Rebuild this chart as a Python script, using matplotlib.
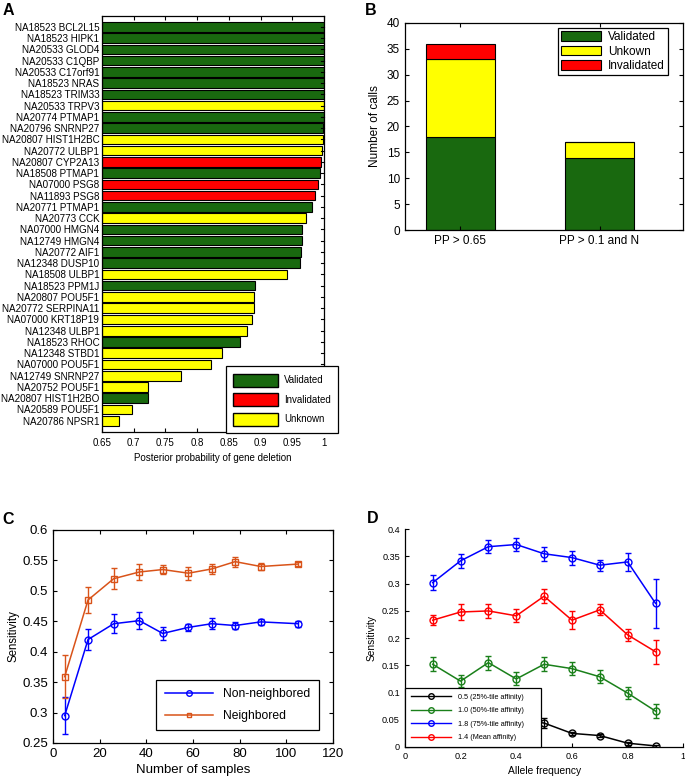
import numpy as np
import matplotlib
matplotlib.use('Agg')
import matplotlib.pyplot as plt
from matplotlib.patches import Patch
from matplotlib.lines import Line2D

plt.rcParams['font.family'] = ['Liberation Sans', 'DejaVu Sans']
plt.rcParams['xtick.direction'] = 'in'
plt.rcParams['ytick.direction'] = 'in'
plt.rcParams['axes.linewidth'] = 0.9

# ---- data, panel A (top to bottom)
genes = ['NA18523 BCL2L15', 'NA18523 HIPK1', 'NA20533 GLOD4', 'NA20533 C1QBP',
         'NA20533 C17orf91', 'NA18523 NRAS', 'NA18523 TRIM33', 'NA20533 TRPV3',
         'NA20774 PTMAP1', 'NA20796 SNRNP27', 'NA20807 HIST1H2BC', 'NA20772 ULBP1',
         'NA20807 CYP2A13', 'NA18508 PTMAP1', 'NA07000 PSG8', 'NA11893 PSG8',
         'NA20771 PTMAP1', 'NA20773 CCK', 'NA07000 HMGN4', 'NA12749 HMGN4',
         'NA20772 AIF1', 'NA12348 DUSP10', 'NA18508 ULBP1', 'NA18523 PPM1J',
         'NA20807 POU5F1', 'NA20772 SERPINA11', 'NA07000 KRT18P19', 'NA12348 ULBP1',
         'NA18523 RHOC', 'NA12348 STBD1', 'NA07000 POU5F1', 'NA12749 SNRNP27',
         'NA20752 POU5F1', 'NA20807 HIST1H2BO', 'NA20589 POU5F1', 'NA20786 NPSR1']
post_prob = [1.0, 1.0, 1.0, 1.0, 1.0, 1.0, 1.0, 1.0, 1.0, 0.999, 0.998, 0.997,
             0.996, 0.993, 0.990, 0.986, 0.981, 0.971, 0.966, 0.966, 0.964, 0.962,
             0.941, 0.891, 0.890, 0.889, 0.887, 0.879, 0.868, 0.839, 0.822, 0.774,
             0.722, 0.722, 0.697, 0.677]
status = ['V', 'V', 'V', 'V', 'V', 'V', 'V', 'U', 'V', 'V', 'U', 'U',
          'I', 'V', 'I', 'I', 'V', 'U', 'V', 'V', 'V', 'V', 'U', 'V',
          'U', 'U', 'U', 'U', 'V', 'U', 'U', 'U', 'U', 'V', 'U', 'U']

# ---- data, panel B
b_groups = ['PP > 0.65', 'PP > 0.1 and N']
b_validated = [18, 14]
b_unknown = [15, 3]
b_invalidated = [3, 0]

# ---- data, panel C
c_samples = [5, 15, 26, 37, 47, 58, 68, 78, 89, 105]
c_non = [0.295, 0.420, 0.446, 0.451, 0.430, 0.440, 0.446, 0.443, 0.449, 0.446]
c_non_err = [0.030, 0.017, 0.016, 0.014, 0.011, 0.006, 0.009, 0.005, 0.005, 0.005]
c_nb = [0.359, 0.485, 0.520, 0.531, 0.535, 0.529, 0.536, 0.548, 0.540, 0.544]
c_nb_err = [0.035, 0.022, 0.017, 0.013, 0.008, 0.011, 0.008, 0.008, 0.005, 0.003]

# ---- data, panel D
d_freq = [0.1, 0.2, 0.3, 0.4, 0.5, 0.6, 0.7, 0.8, 0.9]
d_black = [0.060, 0.055, 0.060, 0.050, 0.044, 0.025, 0.021, 0.007, 0.002]
d_black_err = [0.008, 0.008, 0.008, 0.008, 0.010, 0.003, 0.003, 0.003, 0.002]
d_green = [0.152, 0.121, 0.155, 0.125, 0.152, 0.144, 0.129, 0.099, 0.066]
d_green_err = [0.013, 0.011, 0.013, 0.012, 0.013, 0.012, 0.012, 0.011, 0.013]
d_blue = [0.302, 0.342, 0.368, 0.372, 0.355, 0.348, 0.334, 0.340, 0.264]
d_blue_err = [0.014, 0.013, 0.012, 0.012, 0.013, 0.013, 0.010, 0.017, 0.045]
d_red = [0.233, 0.248, 0.250, 0.241, 0.277, 0.233, 0.252, 0.206, 0.175]
d_red_err = [0.009, 0.014, 0.013, 0.012, 0.013, 0.016, 0.010, 0.011, 0.022]
d_labels = ['0.5 (25%-tile affinity)', '1.0 (50%-tile affinity)',
            '1.8 (75%-tile affinity)', '1.4 (Mean affinity)']

green = '#19690f'
yellow = '#ffff00'
red = '#ff0000'
col_map = {'V': green, 'U': yellow, 'I': red}

fig = plt.figure(figsize=(6.85, 7.84), dpi=100)

# ===================== A
axA = fig.add_axes([0.149, 0.449, 0.324, 0.531])
n = len(genes)
ypos = np.arange(n, 0, -1)
axA.barh(ypos, np.array(post_prob) - 0.65, left=0.65, height=0.85,
         color=[col_map[s] for s in status], edgecolor='black', linewidth=0.8)
axA.set_xlim(0.65, 1.0)
axA.set_ylim(0, n + 1)
axA.set_yticks(ypos)
axA.set_yticklabels(genes, fontsize=7.1)
axA.set_xticks(np.arange(0.65, 1.0001, 0.05))
axA.set_xticklabels(['0.65', '0.7', '0.75', '0.8', '0.85', '0.9', '0.95', '1'], fontsize=7)
axA.tick_params(top=True, right=True, length=3, pad=4)
axA.tick_params(axis='y', length=0, pad=2)
for yy in ypos:
    axA.plot([1.0, 0.996], [yy, yy], color='black', lw=0.8, clip_on=False)
axA.set_xlabel('Posterior probability of gene deletion', fontsize=7, labelpad=4)
legA = axA.legend(handles=[Patch(facecolor=green, edgecolor='black', label='Validated'),
                           Patch(facecolor=red, edgecolor='black', label='Invalidated'),
                           Patch(facecolor=yellow, edgecolor='black', label='Unknown')],
                  loc='lower left', bbox_to_anchor=(226 / 685, 1 - 433 / 784),
                  bbox_transform=fig.transFigure, borderaxespad=0, fontsize=7.0,
                  handlelength=4.6, handleheight=1.7, labelspacing=0.65,
                  fancybox=False, edgecolor='black', framealpha=1,
                  borderpad=0.75, handletextpad=0.6)
legA.get_frame().set_linewidth(0.9)
fig.text(0.004, 0.987, 'A', fontsize=11.5, fontweight='bold', va='center')

# ===================== B
axB = fig.add_axes([0.591, 0.7066, 0.406, 0.2641])
xb = np.arange(1, len(b_groups) + 1)
axB.bar(xb, b_validated, width=0.5, color=green, edgecolor='black', lw=0.8, label='Validated')
axB.bar(xb, b_unknown, width=0.5, bottom=b_validated, color=yellow, edgecolor='black',
        lw=0.8, label='Unkown')
axB.bar(xb, b_invalidated, width=0.5, bottom=np.array(b_validated) + np.array(b_unknown),
        color=red, edgecolor='black', lw=0.8, label='Invalidated')
axB.set_xlim(0.6, 2.6)
axB.set_ylim(0, 40)
axB.set_xticks(xb)
axB.set_xticklabels(b_groups, fontsize=8.5)
axB.set_yticks(np.arange(0, 41, 5))
axB.tick_params(labelsize=8.5, top=True, right=True, length=3)
axB.set_ylabel('Number of calls', fontsize=8.5)
legB = axB.legend(loc='upper right', bbox_to_anchor=(0.946, 0.976), fontsize=8.5,
                  handlelength=3.4, handleheight=0.9, labelspacing=0.23,
                  fancybox=False, edgecolor='black', framealpha=1,
                  borderpad=0.25, handletextpad=0.6, borderaxespad=0)
legB.get_frame().set_linewidth(0.9)
fig.text(0.533, 0.987, 'B', fontsize=11.5, fontweight='bold', va='center')

# ===================== C
axC = fig.add_axes([0.0774, 0.0523, 0.409, 0.2717])
c_blue = '#0000ff'
c_red = '#d95319'
axC.errorbar(c_samples, c_non, yerr=c_non_err, color=c_blue, marker='o', ms=5,
             mfc='none', mec=c_blue, lw=1.1, capsize=2.5, elinewidth=1.0,
             label='Non-neighbored')
axC.errorbar(c_samples, c_nb, yerr=c_nb_err, color=c_red, marker='s', ms=4.5,
             mfc='none', mec=c_red, lw=1.1, capsize=2.5, elinewidth=1.0,
             label='Neighbored')
axC.set_xlim(0, 120)
axC.set_ylim(0.25, 0.6)
axC.set_xticks(np.arange(0, 121, 20))
axC.set_yticks(np.arange(0.25, 0.601, 0.05))
axC.set_yticklabels(['0.25', '0.3', '0.35', '0.4', '0.45', '0.5', '0.55', '0.6'])
axC.tick_params(labelsize=9.5, top=True, right=True, length=3)
axC.set_xlabel('Number of samples', fontsize=9.5, labelpad=3)
axC.set_ylabel('Sensitivity', fontsize=8.3, labelpad=2)
hC = [Line2D([], [], color=c_blue, marker='o', mfc='none', ms=4, lw=1.1),
      Line2D([], [], color=c_red, marker='s', mfc='none', ms=3.5, lw=1.1)]
legC = axC.legend(hC, ['Non-neighbored', 'Neighbored'], loc='lower right',
                  bbox_to_anchor=(0.948, 0.06), fontsize=8.7, handlelength=4.0,
                  labelspacing=0.8, fancybox=False, edgecolor='black', framealpha=1,
                  borderpad=0.7, handletextpad=0.8, borderaxespad=0)
legC.get_frame().set_linewidth(0.9)
fig.text(0.003, 0.337, 'C', fontsize=11.5, fontweight='bold', va='center')

# ===================== D
axD = fig.add_axes([0.591, 0.0472, 0.4066, 0.2777])
d_cols = ['#000000', '#1a801a', '#0000ff', '#ff0000']
d_series = [(d_black, d_black_err), (d_green, d_green_err),
            (d_blue, d_blue_err), (d_red, d_red_err)]
for (vals, errs), col, lab in zip(d_series, d_cols, d_labels):
    axD.errorbar(d_freq, vals, yerr=errs, color=col, marker='o', ms=5, mfc='none',
                 mec=col, lw=1.1, capsize=2.5, elinewidth=1.0, label=lab)
axD.set_xlim(0, 1)
axD.set_ylim(0, 0.4)
axD.set_xticks(np.arange(0, 1.01, 0.2))
axD.set_xticklabels(['0', '0.2', '0.4', '0.6', '0.8', '1'])
axD.set_yticks(np.arange(0, 0.401, 0.05))
axD.set_yticklabels(['0', '0.05', '0.1', '0.15', '0.2', '0.25', '0.3', '0.35', '0.4'])
axD.spines['top'].set_visible(False)
axD.spines['right'].set_visible(False)
axD.tick_params(labelsize=6.6, length=3)
axD.set_xlabel('Allele frequency', fontsize=7.4)
axD.set_ylabel('Sensitivity', fontsize=7.3)
hD = [Line2D([], [], color=c, marker='o', mfc='none', ms=4, lw=1.0) for c in d_cols]
legD = axD.legend(hD, d_labels, loc='lower left', bbox_to_anchor=(0.0, 0.0, 0.49, 0.1),
                  mode='expand', fontsize=5.2, handlelength=5.6, labelspacing=0.9,
                  fancybox=False, edgecolor='black', framealpha=1,
                  borderpad=0.8, handletextpad=0.9, borderaxespad=0)
legD.get_frame().set_linewidth(0.9)
legD.set_zorder(5)
fig.text(0.536, 0.339, 'D', fontsize=11.5, fontweight='bold', va='center')

fig.savefig('out.png', dpi=100)
